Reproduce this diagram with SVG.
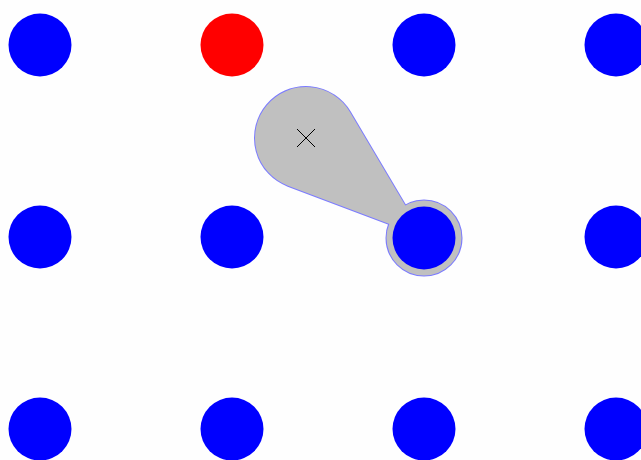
<svg xmlns="http://www.w3.org/2000/svg" width="641" height="460" viewBox="0 0 641 460">
<style>
.dot{fill:#0000ff}
.red{fill:#ff0000}
.out{fill:none;stroke:#7b7bff;stroke-width:2}
.fil{fill:#c0c0c0;stroke:none}
.x{stroke:#000;stroke-width:1;fill:none}
</style>
<rect width="641" height="460" fill="#fefefe"/>
<g id="connectors">
<g id="pin">
<path class="out" d="M349.9,112 L424,237 L288,185.7 A51,51 0 1 1 349.9,112 Z"/>
<circle class="out" cx="424" cy="238" r="37.5"/>
<path class="fil" d="M349.9,112 L424,237 L288,185.7 A51,51 0 1 1 349.9,112 Z"/>
<circle class="fil" cx="424" cy="238" r="37.5"/>
<path class="x" d="M297,129 L315,147 M315,129 L297,147"/>
</g>
</g>
<g id="n00"><circle class="dot" cx="40" cy="45" r="31.5"/></g>
<g id="n01"><circle class="red" cx="232" cy="45" r="31.5"/></g>
<g id="n02"><circle class="dot" cx="424" cy="45" r="31.5"/></g>
<g id="n03"><circle class="dot" cx="616" cy="45" r="31.5"/></g>
<g id="n10"><circle class="dot" cx="40" cy="237" r="31.5"/></g>
<g id="n11"><circle class="dot" cx="232" cy="237" r="31.5"/></g>
<g id="n12"><circle class="dot" cx="424" cy="238" r="31.5"/></g>
<g id="n13"><circle class="dot" cx="616" cy="237" r="31.5"/></g>
<g id="n20"><circle class="dot" cx="40" cy="429" r="31.5"/></g>
<g id="n21"><circle class="dot" cx="232" cy="429" r="31.5"/></g>
<g id="n22"><circle class="dot" cx="424" cy="429" r="31.5"/></g>
<g id="n23"><circle class="dot" cx="616" cy="429" r="31.5"/></g>
</svg>
